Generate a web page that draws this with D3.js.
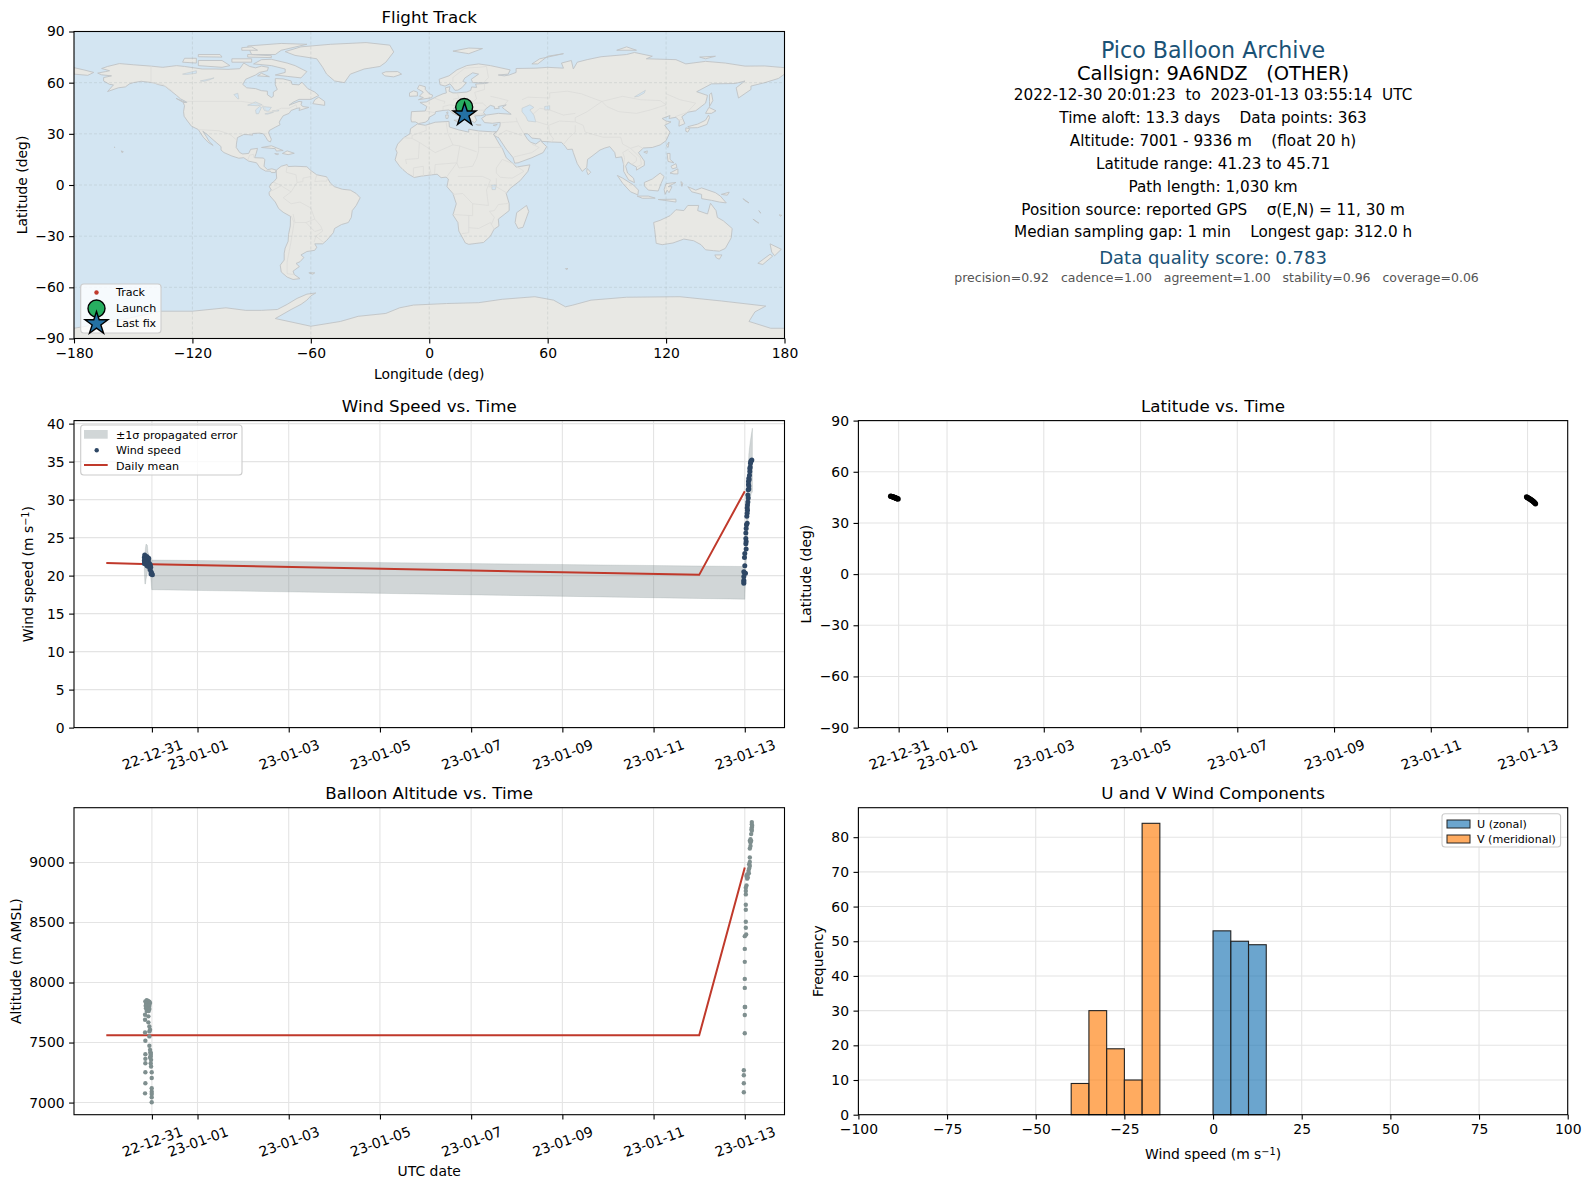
<!DOCTYPE html>
<html>
<head>
<meta charset="utf-8">
<script src="https://cdn.jsdelivr.net/npm/d3@7/dist/d3.min.js"></script>
<style>
  body { margin: 0; background: #fff; }
  svg text { font-family: "DejaVu Sans", sans-serif; fill: #000; }
  .pre { white-space: pre; }
</style>
</head>
<body>
<svg id="vis" width="1589" height="1189"></svg>
<script>
// text block, top right
var infoTitle = "Pico Balloon Archive";
var infoCallsign = "Callsign: 9A6NDZ   (OTHER)";
var infoLines = [
    "2022-12-30 20:01:23  to  2023-01-13 03:55:14  UTC",
    "Time aloft: 13.3 days    Data points: 363",
    "Altitude: 7001 - 9336 m    (float 20 h)",
    "Latitude range: 41.23 to 45.71",
    "Path length: 1,030 km",
    "Position source: reported GPS    \u03c3(E,N) = 11, 30 m",
    "Median sampling gap: 1 min    Longest gap: 312.0 h"
];
var infoScore = "Data quality score: 0.783";
var infoParts = "precision=0.92   cadence=1.00   agreement=1.00   stability=0.96   coverage=0.06";

// time axis
var dateTicks = ["2022-12-31", "2023-01-01", "2023-01-03", "2023-01-05", "2023-01-07", "2023-01-09", "2023-01-11", "2023-01-13"];

// daily means
var dailyDates = ["2022-12-30", "2022-12-31", "2023-01-12", "2023-01-13"];
var dailyWind = [21.66, 21.5, 20.1, 31.1];
var dailyAlt = [7560, 7560, 7560, 8957];

// first flight segment: hours after 2022-12-30 00:00 UTC
var windHoursA = [20.03, 20.21, 20.56, 20.74, 20.91, 21.26, 21.44, 21.61, 21.96, 22.14, 22.32, 20.03, 20.21, 20.56, 20.74, 21.26, 21.61, 21.96, 22.32, 22.67, 22.84, 20.03, 20.56, 20.91, 21.44, 21.96, 22.14, 22.67, 23.02, 23.2, 23.37, 23.55, 23.9, 24.25, 23.55];
var windValsA = [22.4, 22.7, 22.5, 22.3, 22.4, 22.5, 22.2, 22.4, 22.3, 22.05, 22.3, 22.0, 21.9, 22.1, 21.8, 21.9, 21.8, 21.7, 21.6, 21.6, 21.4, 21.6, 21.6, 21.5, 21.3, 21.6, 21.2, 21.5, 20.8, 21.4, 21.1, 20.5, 20.3, 20.1, 20.2];
var altHoursA = [20.56, 21.26, 21.96, 22.67, 20.91, 21.61, 22.32, 23.02, 20.74, 21.44, 22.14, 22.67, 20.91, 21.96, 22.67, 21.26, 22.32, 20.39, 22.14, 20.39, 22.14, 22.67, 23.02, 22.67, 20.39, 22.67, 20.56, 22.67, 23.02, 23.37, 20.56, 23.37, 20.56, 23.55, 23.37, 20.56, 23.55, 23.2, 23.37, 23.02, 20.56, 23.9, 23.9, 20.56, 20.39, 23.9, 23.9, 23.9, 23.9, 23.9];
var altValsA = [7843, 7852, 7846, 7840, 7829, 7824, 7818, 7829, 7807, 7802, 7796, 7807, 7785, 7779, 7779, 7762, 7762, 7732, 7718, 7690, 7668, 7634, 7607, 7593, 7584, 7551, 7515, 7473, 7439, 7412, 7403, 7384, 7364, 7356, 7328, 7328, 7300, 7420, 7398, 7375, 7253, 7253, 7205, 7161, 7077, 7119, 7091, 7072, 7044, 7003];
var latHoursA = [20.03, 20.35, 20.7, 21.0, 21.3, 21.6, 21.9, 22.2, 22.5, 22.8, 23.1, 23.4, 23.7];
var latValsA = [45.71, 45.6, 45.45, 45.3, 45.2, 45.05, 44.9, 44.8, 44.65, 44.5, 44.35, 44.2, 44.1];
var lonValsA = [17.7, 17.7, 17.8, 17.8, 17.9, 17.9, 18.0, 18.0, 18.0, 18.1, 18.1, 18.2, 18.2];

// second flight segment: hours after 2023-01-13 00:00 UTC
var windHoursB = [-0.51, -0.51, -0.51, 0, 0.37, -0.51, 0, -0.16, 0, 0.72, 0.55, 0.55, 0.55, 0.9, 1.25, 1.07, 1.25, 1.25, 1.42, 1.6, 1.78, 1.6, 2.13, 1.95, 1.95, 2.13, 2.48, 2.65, 2.83, 3.0, 3.35, 3.7, 2.13, 2.3, 2.65, 3.18, 1.78, 1.42, 0.72, 0.72, -0.51];
var windValsB = [19.0, 19.4, 19.9, 20.3, 20.3, 20.5, 21.3, 22.4, 22.9, 23.5, 24.2, 24.9, 25.6, 26.7, 26.9, 27.8, 28.2, 28.9, 29.3, 29.7, 30.2, 30.6, 31.4, 32.0, 32.4, 32.8, 33.2, 33.7, 34.3, 34.8, 35.1, 35.2, 31.8, 32.6, 34.1, 35.0, 31.3, 28.6, 26.2, 24.5, 19.2];
var altHoursB = [-0.51, -0.51, -0.51, -0.51, 0, 0, 0, 0.19, 0, 0, 0, 0, 0, 0.72, 0.54, 0.54, 0.54, 0.54, 0.54, 0.54, 0.9, 0.54, 1.25, 0.9, 1.25, 1.6, 1.95, 2.3, 2.65, 2.3, 2.65, 2.65, 2.65, 3.0, 3.0, 3.35, 2.65, 3.35, 3.7, 3.7, 3.7, 3.7, 3.88, 3.53, 3.0, 1.6, 2.12];
var altValsB = [7086, 7161, 7228, 7269, 7578, 7729, 7796, 7796, 7955, 8030, 8172, 8280, 8386, 8400, 8456, 8506, 8606, 8648, 8734, 8762, 8809, 8790, 8865, 8887, 8901, 8901, 8929, 8949, 8971, 8985, 9004, 9041, 9116, 9138, 9166, 9180, 9180, 9236, 9263, 9291, 9319, 9336, 9305, 9277, 9194, 8874, 8910];
var latHoursB = [-0.5, -0.2, 0.1, 0.5, 0.9, 1.3, 1.7, 2.0, 2.4, 2.8, 3.1, 3.5, 3.92];
var latValsB = [45.2, 45.0, 44.8, 44.5, 44.2, 43.9, 43.6, 43.3, 43.0, 42.6, 42.3, 41.8, 41.23];
var lonValsB = [18.3, 18.3, 18.2, 18.2, 18.2, 18.1, 18.1, 18.0, 18.0, 18.0, 17.9, 17.9, 17.9];

// +/- 1 sigma band, read from the edges of the grey area
var bandHoursA = [20.03, 20.3, 20.6, 20.9, 21.6, 22.0, 22.6, 23.3, 23.9];
var bandHighA = [21.5, 22.8, 23.6, 24.15, 24.0, 23.0, 22.6, 22.3, 22.05];
var bandLowA = [20.6, 18.9, 18.9, 19.5, 20.4, 20.7, 20.4, 20.0, 18.15];
var bandHoursB = [-0.1, 0, 0.5, 1.25, 1.8, 2.13, 2.8, 3.4, 4.0];
var bandHighB = [21.2, 21.2, 26.0, 30.0, 34.0, 36.0, 37.5, 38.5, 39.4];
var bandLowB = [16.9, 16.9, 20.5, 24.5, 27.5, 28.5, 30.0, 30.8, 31.0];

// histogram: left bin edges (5 m/s wide) and counts
var uBins = [0, 5, 10];
var uCounts = [53, 50, 49];
var vBins = [-40, -35, -30, -25, -20];
var vCounts = [9, 30, 19, 10, 84];
var binWidth = 5;

// map ticks
var lonTicks = [-180, -120, -60, 0, 60, 120, 180];
var latTicks = [-90, -60, -30, 0, 30, 60, 90];

// land outlines, [lon, lat]
var landPolygons = [
    // north america
    [[-168,65.6],[-164,66.5],[-162,67],[-166,68.3],[-163,69.5],[-157,71.2],[-150,70.5],[-141,69.7],[-135,69],[-128,70],[-124,69.5],[-115,68],[-108,68],[-102,67.8],[-96,68.2],[-94,71.5],[-91,69.5],[-88,68.7],[-85,69.7],[-81.5,69],[-82,67],[-86,66],[-88,64.5],[-93,62],[-94.5,59],[-92.5,57],[-88,56.5],[-85,55.3],[-82,55],[-82,52.9],[-80,51.3],[-79,52],[-79,54.5],[-77,56],[-78,58.8],[-78,62.4],[-74,62.2],[-70,61],[-69.5,59],[-66,58.7],[-64.5,60.3],[-61.5,56.5],[-58,54.5],[-56,52.5],[-60,50.2],[-66,50.2],[-69,48.5],[-71,46.8],[-66,49],[-64.5,48.8],[-65,47],[-64,46],[-61,45.5],[-66,43.7],[-65.5,45.2],[-67,45],[-70,43.7],[-71,42],[-74,40.6],[-75.5,38],[-76,36.8],[-75.6,35.3],[-78,33.9],[-81,32],[-81.4,30.5],[-80,26.8],[-80.5,25.2],[-81.8,26],[-82.8,28],[-84,30],[-86,30.4],[-89.5,30.2],[-89.5,29.2],[-91.5,29.5],[-94,29.6],[-97.2,27.8],[-97.7,24],[-97.8,22],[-96,19],[-94.5,18.2],[-91.5,18.5],[-90.5,20.9],[-87,21.5],[-87.7,18.5],[-88.5,16],[-84,15.8],[-83.3,14.8],[-83.7,11],[-82,9],[-79.7,9.5],[-77.5,8.7],[-78,7.3],[-80,7.3],[-80.5,8.1],[-83,8.2],[-85.7,10],[-87.5,13],[-91.5,14],[-94,16],[-96.5,15.7],[-100,17],[-104,19],[-105.5,20.5],[-105.5,22.5],[-108,25],[-110,27],[-112.7,29.8],[-114.7,31.5],[-113,28.5],[-111.5,25.5],[-109.5,23.2],[-112,25],[-114.5,28],[-117,32.5],[-120.5,34.5],[-122.5,37.5],[-124.2,40.3],[-124.5,43],[-124,46.5],[-124.7,48.4],[-122.7,48.5],[-126,50.5],[-128,52.5],[-130.5,54.8],[-134,58],[-137,58.8],[-140,60],[-146,60.8],[-150,60],[-152,59.2],[-154,57.5],[-157.5,57],[-163,54.8],[-160,58.7],[-162,59],[-165,61],[-165,63],[-161,64],[-166,64.6]],
    // south america
    [[-77.5,8.7],[-75,11],[-72,12],[-71.5,10.8],[-68,11],[-62,10.7],[-60,8.5],[-57,6],[-52,4.8],[-50,1],[-48,-1],[-44,-2.5],[-40,-3],[-37,-5],[-35,-7.5],[-37,-12],[-39,-15],[-39.5,-19],[-41,-22],[-44.5,-23.2],[-48,-25.5],[-48.6,-28],[-52,-32.5],[-54,-34.5],[-58,-34.5],[-57,-36.5],[-58,-38.3],[-62,-39],[-65,-41],[-63.5,-42.5],[-65.5,-45],[-67.5,-46],[-65.8,-47.8],[-69,-50.5],[-68.4,-52.5],[-65.5,-54.9],[-69,-55.4],[-72,-54],[-75,-51],[-75.5,-47],[-73.5,-44],[-73.5,-40],[-73,-37],[-71.5,-33],[-71.3,-29],[-70.4,-24],[-70.3,-18.4],[-74,-16],[-76.3,-13.8],[-78,-10],[-81,-6],[-81.2,-4.3],[-80,-3],[-81,-1],[-80,1],[-78.7,2],[-77.3,4],[-77.5,7]],
    // africa
    [[-6,35.8],[-2,35],[3,36.8],[10,37.3],[10.2,34],[15,32.3],[20,31],[20,32.7],[25,31.7],[32,31.2],[34.3,31.3],[32.6,29.9],[35.5,24],[37.2,21],[39,16],[43,12],[44,10.5],[51,11.8],[50,8],[46,2.5],[41,-2],[39,-5],[40.5,-11],[40.5,-15],[35,-20],[35.3,-24],[32.8,-26],[31,-30],[27.5,-33.7],[20,-34.8],[18.3,-34],[15,-27],[14.5,-22],[12,-17.5],[13.7,-11],[12,-5],[9,-1],[9.7,3.5],[8.5,4.6],[6,4.3],[4,6.3],[1,5.9],[-4,5.2],[-7.6,4.4],[-11,6.7],[-13.3,9],[-15,11],[-17.3,14.7],[-16.3,19],[-17,21],[-16,24],[-13,27.7],[-9.8,30],[-9.5,33]],
    // eurasia
    [[-9.3,38.7],[-9,43],[-2,43.4],[-1.2,46],[-4.7,48.4],[-1.5,48.7],[1.5,50.5],[4,52],[7,53.5],[8.7,54],[8.2,57],[10.5,57.6],[10,55],[12,54],[14,54],[19,54.5],[21,55.5],[21.5,57.5],[24,57.2],[23.5,59.2],[28,59.5],[30,60],[25,60],[22,60],[21.3,62],[25,65],[22,65.8],[18,62.7],[17,60.7],[18.8,60],[16.5,57],[14.5,55.6],[13,55.5],[11.5,58],[10.5,59.3],[8,58],[5.5,58.8],[5,62],[10,64],[14,67.5],[19,70],[25,71],[31,70],[41,67.5],[40,65],[35,64.5],[38,64],[40.5,64.5],[44,66],[44,68.3],[54,68.5],[60,69],[68,68.5],[67,71.5],[72,73],[73,68],[75,72],[80,73.5],[87,75.2],[100,76.5],[104,77.7],[113,75.5],[110,74],[125,73.5],[130,71],[140,72.5],[150,71.5],[160,69.7],[170,69.8],[178,69],[180,68.8],[180,65],[177,62.5],[170,60],[163,58],[163,56],[156.7,51],[155.5,57],[160,61],[155,59.5],[143,59.3],[135.5,54.7],[141,52.5],[140,48],[135,43.5],[131,42.7],[128,40],[129.5,36],[126.5,34.5],[126.7,37.7],[125,39.7],[121.5,39],[122,40.7],[118,39],[120,37.5],[122.5,37],[119.3,35],[122,31],[120,26],[117,23.5],[113,22],[108.5,21.7],[106,19],[109,14],[109,11.5],[105,8.7],[105,10.5],[102,12.5],[100.8,13.5],[99.5,11],[100.5,7],[103.5,4],[104,1.4],[101,3],[98.5,8],[98.5,12],[97.5,16.5],[94.5,16],[94,19],[91.5,22.5],[89,21.7],[86.5,20.5],[82,16.5],[80.2,15],[79.8,10.3],[77.5,8],[75,12.5],[73,19],[72.5,21],[70,20.8],[69,22.5],[67,25],[62,25.2],[57,25.6],[56.3,27],[52,27.5],[50,30],[48,30],[50,26.5],[51.5,25],[54,24],[56.3,26],[59.5,22.5],[57.7,19],[52,16],[45,13],[43.3,12.8],[42.5,16],[39,21],[35,28],[34.5,28],[33,29],[32.6,29.9],[34.4,31.4],[35.8,34.5],[36,36.7],[32,36.2],[28,36.6],[26.5,39],[29,41],[35,42],[41.5,41.5],[38,44.5],[37,45.5],[39,47],[35,46],[35.5,45],[33,44.7],[33,46],[31,46.7],[28.5,44.5],[27.5,42.5],[28.5,41.3],[26,40.7],[23,40.5],[24,38],[23,36.5],[21.5,37.5],[19.5,41],[19,42.3],[14.5,45.2],[13,45.7],[12.3,44.5],[14,42.4],[16,41.8],[18.5,40],[17,40.5],[16,38],[15.7,40],[12,42],[10,44],[7,43.7],[3.2,43],[3,41.7],[0,39.7],[-0.5,38],[-2,36.8],[-5.5,36],[-7,37],[-9,37]],
    // chukotka across the date line
    [[-180,68.8],[-175,67.5],[-170,66],[-173,64.3],[-180,65]],
    // antarctica
    [[-180,-84],[-160,-80],[-150,-77.5],[-136,-74],[-120,-74],[-103,-72],[-93,-73.5],[-85,-73.5],[-77,-73],[-72,-70],[-67,-66.5],[-62,-64],[-57.5,-63.3],[-60,-65],[-62,-67.5],[-65,-70],[-70,-73],[-78,-78.3],[-60,-82.8],[-45,-80],[-36,-77],[-22,-75.3],[-15,-72],[-8,-70.4],[8.7,-69.5],[25,-69],[37,-67],[53.5,-65.5],[63,-67.5],[69,-71.4],[72.5,-70.5],[82,-67.5],[100,-65.8],[127,-65.5],[148,-68],[170.5,-71],[165,-74.4],[162,-80],[173,-84],[180,-84],[180,-90],[-180,-90]],
    // greenland, arctic islands
    [[-73,78.2],[-65,81],[-50,82.5],[-32,83.5],[-20,82],[-18,78],[-22,72],[-25,69.5],[-33,68],[-40,65],[-43,60],[-48,61],[-52,65],[-54,69],[-57,74],[-68,76]],
    [[-24,65.5],[-22,66.4],[-16,66.5],[-14,65],[-18,63.4],[-22.5,64]],
    [[12,78.5],[20,80.3],[27,80],[20,77]],
    [[52,71],[56,74],[68,77],[60,75.5],[55,71]],
    [[95,79],[105,79],[100,81]],
    [[137,75],[145,75.5],[140,74]],
    [[-80,73.7],[-72,71.5],[-68,70],[-62,66.5],[-65,62.8],[-72,63.7],[-78,64.5],[-73,66],[-73,68],[-80,70],[-89,71],[-85,73.5]],
    [[-117,70],[-105,69],[-101,70],[-105,73],[-117,73]],
    [[-125,72],[-118,71.5],[-118,74.3],[-124,74.3]],
    [[-90,76.5],[-78,76.5],[-75,79],[-62,82.5],[-75,83],[-92,81.5]],
    [[-92,75],[-80,74.7],[-80,75.8],[-92,76.5]],
    [[-117,75.2],[-105,75],[-106,76.5],[-117,76.5]],
    [[-87,64],[-81,63.5],[-85,65.5]],
    [[-95,79],[-87,79],[-90,81],[-95,80.5]],
    [[-100,72],[-90,72],[-90,74],[-100,74]],
    [[-59,47.7],[-53,46.7],[-53,49],[-56,51.5],[-58,50]],
    [[-128.3,50.8],[-123.5,48.4],[-125,48.7]],
    // caribbean
    [[-85,22],[-80,23],[-74,20.2],[-77.5,19.9],[-78,21.3]],
    [[-74.4,18.5],[-72,20],[-68.4,18.6],[-71.5,17.8]],
    [[-78.3,18.4],[-76.3,18.2],[-77,17.8]],
    // hawaii
    [[-156,20],[-155,19.5],[-155.7,19]],
    [[-159.7,22.2],[-159.3,22.2],[-159.4,21.9]],
    // europe islands
    [[-5.5,50],[1.3,51.2],[1.7,52.7],[0,53.5],[-2,56],[-2,57.6],[-5,58.6],[-6,56.5],[-3,54.5],[-5,52],[-3,51.3]],
    [[-10,52],[-6,52.2],[-6,54.5],[-8,55.2],[-10,54]],
    [[12.5,38],[15.6,38.2],[15,36.7]],
    [[8.3,41],[9.7,41],[9.5,39.1],[8.5,39]],
    [[8.7,42.5],[9.5,42.9],[9.3,41.5]],
    [[23.6,35.5],[26.3,35.2],[24.8,34.9]],
    [[32.4,35],[34.5,35.6],[33.5,34.7]],
    // east asia
    [[131,34.2],[136,35.7],[140,38],[141.5,41],[142,39.5],[140.7,35.5],[136,33.6],[132,33.5]],
    [[140,42],[141.7,45.5],[145.3,43.5],[143,42]],
    [[130,33.5],[132,33],[131,31],[130,31.5]],
    [[142,46],[143.7,49.5],[143,54],[142,53],[142,49]],
    [[120.1,23],[121.5,25.2],[121,22]],
    [[108.7,19.3],[110.5,20],[110.3,18.5]],
    // south east asia
    [[120.5,18.5],[122,18.5],[122,15],[124,13],[121,13.8]],
    [[122,7],[126,9.5],[126,6.5],[124,6.5]],
    [[122.5,11],[125,12.5],[125.5,10.2],[123.2,9.5]],
    [[109,1.5],[113,3.5],[117,7],[119,5],[117.5,1],[116,-3.5],[111,-3],[109,-0.5]],
    [[95.3,5.6],[98,4],[103.5,0],[106,-3],[105.7,-5.8],[102,-4],[98,1]],
    [[105.3,-6.5],[111,-6.5],[114.5,-7.7],[108,-7.8]],
    [[119.5,-5.5],[119,-2.5],[120,0.8],[125,1.5],[121,-1],[123,-1],[121.5,-4.5],[120.5,-3]],
    [[131,-1],[135,-3],[138,-1.7],[145,-4.5],[147.5,-6.5],[150.5,-10.5],[147,-10],[143,-9],[138,-8],[138,-5.5],[133,-4]],
    [[116,-8.5],[125,-8.3],[125,-10],[119,-9]],
    [[127.5,2],[128.5,1],[128,-0.8]],
    [[148,-5.5],[152,-4.2],[151,-6]],
    [[80,9.7],[81.8,7.5],[80.5,6],[79.8,8]],
    // australia, pacific
    [[113.7,-22],[114.2,-26],[115,-34.2],[118,-35],[123.5,-34],[129,-31.7],[134,-32.7],[137.7,-35],[140,-38],[144,-38.5],[147,-38.8],[150,-37.2],[153,-31],[153.5,-25.5],[149,-21],[146,-19],[145.3,-15],[142.5,-10.7],[141,-17],[136,-15],[136.5,-12],[131,-12],[129,-15],[125,-14.5],[122,-18],[117,-20.7]],
    [[144.7,-41],[148.3,-41],[147,-43.5],[145.5,-42.8]],
    [[172.7,-34.5],[178.4,-37.7],[175,-41.5],[173.5,-39.3]],
    [[172.7,-40.6],[174,-41.7],[169,-46.6],[166.5,-45.9]],
    [[164,-20],[167,-22.3],[166.5,-22.2]],
    [[159,-8],[162,-10.5],[160,-9.2]],
    [[167,-15],[168,-16.5],[167.5,-16]],
    [[177.3,-17.5],[178.6,-17.8],[178,-18.3]],
    // madagascar and southern ocean
    [[49.3,-12],[50.4,-15.5],[47.5,-24.8],[45,-25.5],[43.5,-22],[44.3,-16.2]],
    [[-61,-51.5],[-58,-51.5],[-59,-52.3]],
    [[69,-49],[70.3,-49],[69.5,-49.6]]
];

// lakes and inland seas, drawn in the ocean colour
var waterPolygons = [
    [[47,45],[51,47],[53,45.5],[51,44],[53,41],[54,37],[50,37.5],[49,40],[47,43]],
    [[58.5,46],[61,46.5],[61,44],[58.5,44]],
    [[104,51.7],[109.5,55.5],[109,54],[106,52]],
    [[-92,46.8],[-88,48.7],[-84.7,47],[-87,46.5]],
    [[-88,44],[-86,46],[-85,45.5],[-86.5,41.8],[-87.7,41.8]],
    [[-84.5,46],[-80,45.5],[-81.5,43.2],[-83.5,43.7]],
    [[-83.3,41.7],[-79,42.8],[-79,42.6],[-82,41.5]],
    [[-79.7,43.3],[-76.3,44],[-76.3,43.4],[-78,43.3]],
    [[-125,65],[-118,67],[-118,65.5],[-123,64.8]],
    [[-116,61],[-109,62.8],[-111,61.8],[-114,60.8]],
    [[-99,53],[-97,53.8],[-96.5,50.5],[-97,50.5]],
    [[31.7,0],[34,0],[33.5,-2.7],[31.8,-2.7]]
];

// country borders, thin lines
var borderLines = [
    [[-123,49],[-95,49],[-89,48],[-84,46.5],[-82.5,43],[-79,43],[-75,45],[-71,45],[-67.5,47],[-67,45]],
    [[-141,69.7],[-141,60],[-135,59],[-130,55]],
    [[-117,32.5],[-106.5,31.8],[-101,29.7],[-97.2,26]],
    [[-92,14.5],[-91,17.5],[-89,18],[-88.8,15.9]],
    [[-72,11.5],[-72.5,7.5],[-67.5,6],[-67,1.5]],
    [[-60,8],[-60,5],[-64,4],[-64,2],[-67,1.5],[-70,-4],[-74,-7.5],[-70,-11],[-65.5,-10],[-60,-13.5],[-58,-20],[-55,-24],[-54,-27],[-57.5,-30],[-53.5,-33.7]],
    [[-57,6],[-58,2],[-55,2.3],[-52,2.2],[-51.5,4.4]],
    [[-80,-3.5],[-75,-0.5],[-70,-4]],
    [[-78.7,1.5],[-75,-0.2]],
    [[-70,-18],[-68.5,-22],[-70,-33],[-72,-45],[-72,-52],[-68.5,-52.5]],
    [[-69,-17],[-68,-22],[-62.5,-22],[-58,-20]],
    [[-62.5,-22],[-58,-27.3],[-54.6,-26]],
    [[-58.3,-33.5],[-57.5,-30]],
    [[-13,27.7],[-8.7,27.4],[-8.7,29],[-1.5,32],[-1.7,35]],
    [[8.5,37],[9.5,30],[12,23.5],[3,19],[-5,25],[-8.7,27.3]],
    [[25,31.7],[25,20],[24,15.7],[22,11]],
    [[12,23.5],[15,23],[24,19.5]],
    [[15.5,23],[14,13],[15,10],[22,11]],
    [[25,22],[37,22]],
    [[-5,25],[-5.5,15.5],[-12,15],[-11.5,12.3]],
    [[3,12],[14,13]],
    [[3,12],[2.7,6.4]],
    [[14,13],[9,5]],
    [[14.5,5],[27,5]],
    [[12,-5.5],[17,-5],[22,-11],[30,-12],[29,-3],[31,3],[27,5]],
    [[34,10],[37,15],[42.5,12.5],[48,8],[42,4],[36,4.5],[34,7],[34,10]],
    [[34,4],[34,-1],[39.2,-4.6]],
    [[34,-1],[30,-1]],
    [[22,-11],[22,-18],[12,-17.3]],
    [[20,-18],[20,-28],[16.5,-28.5]],
    [[20,-25],[25,-25.5],[31,-22],[33,-26]],
    [[40.5,-10.7],[35,-11.5],[33,-15],[30.5,-15.5],[33,-19],[31.5,-23]],
    [[-8,4.5],[-8,10],[-3,11],[-3,5]],
    [[1,6],[0,11]],
    [[47,50],[50,51.5],[61,51],[61,54],[70,55],[77,53.5],[85,50],[87.5,49]],
    [[87.5,49],[98,52],[107,50],[117,49.5],[120,47],[112,44],[105,42],[96,43],[90,46],[87.5,49]],
    [[120,53.5],[127,50],[135,48],[131,43]],
    [[74,37],[78,35],[79,31],[88,28],[97,28],[98,24],[102,21.5],[106,23],[108,21.7]],
    [[87.5,49],[80,43],[74,39.5],[74,37]],
    [[68,23.7],[71,28],[74,31],[74,35]],
    [[61.5,25],[63,27],[61,30],[60.5,35],[66,37.5],[74,37]],
    [[48,30],[46,34],[44.5,37.5],[44,39.5]],
    [[36,36.5],[44.5,37.2]],
    [[35,29.3],[39,32],[47,29]],
    [[43,16.5],[52,19],[55.7,22],[52,24]],
    [[52.5,41.5],[56,45],[61,44],[68,41],[74,42]],
    [[54,37.3],[60.5,35]],
    [[98.5,12],[99,16],[98,19],[101,21]],
    [[101,20],[105,16],[105,14],[102.5,12]],
    [[102,21.5],[107,16],[107.5,12],[105,10.5]],
    [[124.5,40],[130.5,42.5]],
    [[126,38],[128.4,38.5]],
    [[-1.7,43.3],[3,42.4]],
    [[2.5,51],[6,49.5],[8,49],[7.5,47.6]],
    [[14.2,54],[15,51]],
    [[12,50.3],[15,51],[19,49.5],[22.5,49]],
    [[7,44],[7,46],[10.5,47],[13.5,46.5],[16,46.8],[19,46],[22.5,48],[27,48],[29,46]],
    [[23,54.3],[24,50.5],[22.5,49]],
    [[28,59.5],[28,56],[23,54.3]],
    [[28,60.5],[30,63],[29,69.5]],
    [[12,59],[12,63],[18,68.5],[25,69],[29,69.5]],
    [[31,52],[35,51],[40,49.5],[38,47]],
    [[19,46],[22.5,44],[23,41.3]],
    [[20,42],[23,41.3],[26.5,41.7],[28,42]],
    [[22.5,44],[28.5,43.8]]
];

// colours, sizes and panel boxes
var GRID = "#e4e4e4";
var NAVY = "#1a5276";
var RED = "#c0392b";
var FS_TICK = 13.9, FS_TITLE = 16.7, FS_LEGEND = 11.1;

var panels = {
    map:   {x: 74,    y: 31.5,  w: 710.5, h: 307},
    wind:  {x: 74,    y: 420.6, w: 710.5, h: 307},
    lat:   {x: 858.4, y: 420.6, w: 709.3, h: 307},
    alt:   {x: 74,    y: 807.7, w: 710.5, h: 307},
    hist:  {x: 858.4, y: 807.7, w: 709.3, h: 307}
};

var display = d3.select("#vis");
var dateLabel = d3.utcFormat("%y-%m-%d");
var minus = d => d < 0 ? "\u2212" + (-d) : "" + d;

var day0 = Date.UTC(2022, 11, 30);
var day13 = Date.UTC(2023, 0, 13);
var hoursA = h => new Date(day0 + h * 3600e3);
var hoursB = h => new Date(day13 + h * 3600e3);

// one panel: group at the panel corner
function panelGroup(p) {
    return display.append("g").attr("transform", `translate(${p.x},${p.y})`);
}

function drawFrame(g, p) {
    g.append("rect")
        .attr("width", p.w).attr("height", p.h)
        .attr("fill", "none").attr("stroke", "#000").attr("stroke-width", 1.1);
}

function styleAxis(a) {
    a.attr("font-family", "DejaVu Sans").attr("font-size", FS_TICK);
    a.selectAll(".domain").remove();
    a.selectAll(".tick line").attr("stroke-width", 1.1);
}

function drawAxes(g, p, x, y, xTicks, yTicks, xFormat, yFormat) {
    var bottom = g.append("g").attr("transform", `translate(0,${p.h})`)
        .call(d3.axisBottom(x).tickValues(xTicks).tickFormat(xFormat).tickSize(4.9).tickPadding(4.5));
    var left = g.append("g")
        .call(d3.axisLeft(y).tickValues(yTicks).tickFormat(yFormat).tickSize(4.9).tickPadding(4.5));
    styleAxis(bottom);
    styleAxis(left);
    return bottom;
}

function drawGrid(g, p, x, y, xTicks, yTicks, dash) {
    g.append("g").selectAll("line").data(xTicks).join("line")
        .attr("x1", d => x(d)).attr("x2", d => x(d)).attr("y1", 0).attr("y2", p.h)
        .attr("stroke", dash ? "#9aa0a3" : GRID).attr("stroke-width", dash ? 0.6 : 1.1)
        .attr("stroke-opacity", dash ? 0.4 : 1).attr("stroke-dasharray", dash);
    g.append("g").selectAll("line").data(yTicks).join("line")
        .attr("x1", 0).attr("x2", p.w).attr("y1", d => y(d)).attr("y2", d => y(d))
        .attr("stroke", dash ? "#9aa0a3" : GRID).attr("stroke-width", dash ? 0.6 : 1.1)
        .attr("stroke-opacity", dash ? 0.4 : 1).attr("stroke-dasharray", dash);
}

function title(p, s) {
    display.append("text")
        .attr("x", p.x + p.w / 2).attr("y", p.y - 8.3)
        .attr("text-anchor", "middle").attr("font-size", FS_TITLE).text(s);
}

function xLabel(p, s, baseline) {
    return display.append("text")
        .attr("x", p.x + p.w / 2).attr("y", baseline)
        .attr("text-anchor", "middle").attr("font-size", FS_TICK).text(s);
}

function yLabel(p, s, baseline) {
    return display.append("text")
        .attr("transform", `translate(${baseline},${p.y + p.h / 2}) rotate(-90)`)
        .attr("text-anchor", "middle").attr("font-size", FS_TICK).text(s);
}

// m s^-1 with a raised exponent, as real text
function unitText(t, before) {
    t.text(before);
    t.append("tspan").attr("dy", "-0.42em").attr("font-size", FS_TICK * 0.7).text("\u22121");
    t.append("tspan").attr("dy", "0.3em").text(")");
}

function rotateDates(bottom) {
    bottom.selectAll(".tick text")
        .attr("y", 0).attr("dy", ".35em")
        .attr("text-anchor", "middle")
        .attr("transform", "translate(0,27) rotate(-20)");
}

function legendBox(x, y, w, h) {
    display.append("rect")
        .attr("x", x).attr("y", y).attr("width", w).attr("height", h).attr("rx", 3)
        .attr("fill", "#fff").attr("fill-opacity", 0.8)
        .attr("stroke", "#ccc").attr("stroke-width", 1.1);
}

function legendText(x, y, s) {
    display.append("text")
        .attr("x", x).attr("y", y).attr("dy", ".35em")
        .attr("font-size", FS_LEGEND).text(s);
}

function scatter(g, times, vals, x, y, r, color) {
    g.append("g").selectAll("circle").data(vals).join("circle")
        .attr("cx", (d, i) => x(times[i])).attr("cy", d => y(d))
        .attr("r", r).attr("fill", color);
}

function starPath(radius) {
    return d3.symbol().type(d3.symbolStar).size(radius * radius / 0.8908)();
}

// ---- flight track map
function drawMap() {
    var p = panels.map;
    var g = panelGroup(p);
    var x = d3.scaleLinear().domain([-180, 180]).range([0, p.w]);
    var y = d3.scaleLinear().domain([-90, 90]).range([p.h, 0]);
    var line = d3.line().x(d => x(d[0])).y(d => y(d[1]));

    display.append("clipPath").attr("id", "mapClip").append("rect")
        .attr("width", p.w).attr("height", p.h);
    var inner = g.append("g").attr("clip-path", "url(#mapClip)");

    inner.append("rect").attr("width", p.w).attr("height", p.h).attr("fill", "#d3e5f2");
    inner.append("g").selectAll("path").data(landPolygons).join("path")
        .attr("d", d => line(d) + "Z")
        .attr("fill", "#e8e8e4").attr("stroke", "#bfc3c5").attr("stroke-width", 0.9)
        .attr("stroke-linejoin", "round");
    inner.append("g").selectAll("path").data(waterPolygons).join("path")
        .attr("d", d => line(d) + "Z")
        .attr("fill", "#d3e5f2").attr("stroke", "#c3c9cc").attr("stroke-width", 0.6);
    inner.append("g").selectAll("path").data(borderLines).join("path")
        .attr("d", line)
        .attr("fill", "none").attr("stroke", "#dcdcd9").attr("stroke-width", 0.8);

    drawGrid(inner, p, x, y, lonTicks, latTicks, "3,2");

    // track, then launch and last fix on top
    var trackLon = lonValsA.concat(lonValsB);
    var trackLat = latValsA.concat(latValsB);
    inner.append("g").selectAll("circle").data(trackLat).join("circle")
        .attr("cx", (d, i) => x(trackLon[i])).attr("cy", d => y(d))
        .attr("r", 1.6).attr("fill", RED);
    inner.append("circle")
        .attr("cx", x(lonValsA[0])).attr("cy", y(latValsA[0])).attr("r", 8.5)
        .attr("fill", "#27ae60").attr("stroke", "#000").attr("stroke-width", 1.4);
    inner.append("path")
        .attr("transform", `translate(${x(lonValsB[lonValsB.length - 1])},${y(latValsB[latValsB.length - 1])})`)
        .attr("d", starPath(12))
        .attr("fill", "#2471a3").attr("stroke", "#000").attr("stroke-width", 1.4);

    drawFrame(g, p);
    drawAxes(g, p, x, y, lonTicks, latTicks, minus, minus);
    title(p, "Flight Track");
    xLabel(p, "Longitude (deg)", 379);
    yLabel(p, "Latitude (deg)", 27);

    // legend
    legendBox(80.7, 284, 80.3, 49);
    display.append("circle").attr("cx", 96.5).attr("cy", 292.5).attr("r", 2.2).attr("fill", RED);
    display.append("circle").attr("cx", 96.5).attr("cy", 308.5).attr("r", 8.5)
        .attr("fill", "#27ae60").attr("stroke", "#000").attr("stroke-width", 1.4);
    display.append("path").attr("transform", "translate(96.5,323.5)").attr("d", starPath(12))
        .attr("fill", "#2471a3").attr("stroke", "#000").attr("stroke-width", 1.4);
    legendText(116, 292.5, "Track");
    legendText(116, 308, "Launch");
    legendText(116, 323, "Last fix");
}

// ---- text block
function drawInfo() {
    var cx = panels.lat.x + panels.lat.w / 2;
    function line(y, size, color, s, shift) {
        display.append("text").attr("class", "pre")
            .attr("x", cx + (shift || 0)).attr("y", y).attr("dy", ".35em")
            .attr("text-anchor", "middle").attr("font-size", size)
            .style("fill", color).text(s);
    }
    line(50.7, 22.2, NAVY, infoTitle);
    line(73, 19.5, "#000", infoCallsign);
    var ys = [94.2, 117.5, 140.8, 163.2, 186.5, 209.8, 232];
    infoLines.forEach((s, i) => line(ys[i], 15.25, "#000", s));
    line(257.4, 18, NAVY, infoScore);
    line(277.7, 12.5, "#555", infoParts, 3.5);
}

// ---- wind speed
function drawWind() {
    var p = panels.wind;
    var g = panelGroup(p);
    var x = d3.scaleUtc().domain([new Date(Date.UTC(2022, 11, 29, 7, 0)), new Date(Date.UTC(2023, 0, 13, 20, 54))]).range([0, p.w]);
    var y = d3.scaleLinear().domain([0, 40.4]).range([p.h, 0]);
    var ticks = dateTicks.map(d => new Date(d + "T00:00:00Z"));
    drawGrid(g, p, x, y, ticks, d3.range(0, 45, 5));

    // band over both segments
    var band = bandHoursA.map((h, i) => ({t: hoursA(h), hi: bandHighA[i], lo: bandLowA[i]}))
        .concat(bandHoursB.map((h, i) => ({t: hoursB(h), hi: bandHighB[i], lo: bandLowB[i]})));
    g.append("path").datum(band)
        .attr("d", d3.area().x(d => x(d.t)).y0(d => y(d.lo)).y1(d => y(d.hi)))
        .attr("fill", "#7b8a8d").attr("fill-opacity", 0.35)
        .attr("stroke", "#7b8a8d").attr("stroke-opacity", 0.25).attr("stroke-width", 0.8);

    var line = d3.line().x(d => x(d.t)).y(d => y(d.v));
    g.append("path")
        .datum(dailyDates.map((d, i) => ({t: new Date(d + "T00:00:00Z"), v: dailyWind[i]})))
        .attr("d", line).attr("fill", "none").attr("stroke", RED).attr("stroke-width", 2);

    scatter(g, windHoursA.map(hoursA), windValsA, x, y, 2.5, "#2e4765");
    scatter(g, windHoursB.map(hoursB), windValsB, x, y, 2.5, "#2e4765");

    drawFrame(g, p);
    var bottom = drawAxes(g, p, x, y, ticks, d3.range(0, 45, 5), dateLabel, d => d);
    rotateDates(bottom);
    title(p, "Wind Speed vs. Time");
    unitText(yLabel(p, "", 33), "Wind speed (m s");

    legendBox(80.7, 425, 161.3, 50);
    display.append("rect").attr("x", 84).attr("y", 430).attr("width", 23.7).attr("height", 8.7)
        .attr("fill", "#7b8a8d").attr("fill-opacity", 0.35);
    display.append("circle").attr("cx", 96.7).attr("cy", 450.3).attr("r", 2.2).attr("fill", "#2e4765");
    display.append("line").attr("x1", 84).attr("x2", 107.7).attr("y1", 465).attr("y2", 465)
        .attr("stroke", RED).attr("stroke-width", 2);
    legendText(116, 435, "\u00b11\u03c3 propagated error");
    legendText(116, 450.3, "Wind speed");
    legendText(116, 466, "Daily mean");
}

// ---- latitude
function drawLat() {
    var p = panels.lat;
    var g = panelGroup(p);
    var x = d3.scaleUtc().domain([new Date(Date.UTC(2022, 11, 30, 4, 2)), new Date(Date.UTC(2023, 0, 13, 19, 55))]).range([0, p.w]);
    var y = d3.scaleLinear().domain([-90, 90]).range([p.h, 0]);
    var ticks = dateTicks.map(d => new Date(d + "T00:00:00Z"));
    drawGrid(g, p, x, y, ticks, latTicks);

    scatter(g, latHoursA.map(hoursA), latValsA, x, y, 2.7, "#000");
    scatter(g, latHoursB.map(hoursB), latValsB, x, y, 2.7, "#000");

    drawFrame(g, p);
    var bottom = drawAxes(g, p, x, y, ticks, latTicks, dateLabel, minus);
    rotateDates(bottom);
    title(p, "Latitude vs. Time");
    yLabel(p, "Latitude (deg)", 811);
}

// ---- altitude
function drawAlt() {
    var p = panels.alt;
    var g = panelGroup(p);
    var x = d3.scaleUtc().domain([new Date(Date.UTC(2022, 11, 29, 7, 0)), new Date(Date.UTC(2023, 0, 13, 20, 54))]).range([0, p.w]);
    var y = d3.scaleLinear().domain([6899, 9456]).range([p.h, 0]);
    var ticks = dateTicks.map(d => new Date(d + "T00:00:00Z"));
    var altTicks = [7000, 7500, 8000, 8500, 9000];
    drawGrid(g, p, x, y, ticks, altTicks);

    g.append("path")
        .datum(dailyDates.map((d, i) => ({t: new Date(d + "T00:00:00Z"), v: dailyAlt[i]})))
        .attr("d", d3.line().x(d => x(d.t)).y(d => y(d.v)))
        .attr("fill", "none").attr("stroke", RED).attr("stroke-width", 2);

    scatter(g, altHoursA.map(hoursA), altValsA, x, y, 2.2, "#7f8f8f");
    scatter(g, altHoursB.map(hoursB), altValsB, x, y, 2.2, "#7f8f8f");

    drawFrame(g, p);
    var bottom = drawAxes(g, p, x, y, ticks, altTicks, dateLabel, d => d);
    rotateDates(bottom);
    title(p, "Balloon Altitude vs. Time");
    xLabel(p, "UTC date", 1176);
    yLabel(p, "Altitude (m AMSL)", 21);
}

// ---- u and v histogram
function drawHist() {
    var p = panels.hist;
    var g = panelGroup(p);
    var x = d3.scaleLinear().domain([-100, 100]).range([0, p.w]);
    var y = d3.scaleLinear().domain([0, 88.5]).range([p.h, 0]);
    var xTicks = d3.range(-100, 125, 25);
    var yTicks = d3.range(0, 90, 10);
    drawGrid(g, p, x, y, xTicks, yTicks);

    function bars(bins, counts, color) {
        g.append("g").selectAll("rect").data(counts).join("rect")
            .attr("x", (d, i) => x(bins[i]))
            .attr("width", (d, i) => x(bins[i] + binWidth) - x(bins[i]))
            .attr("y", d => y(d))
            .attr("height", d => y(0) - y(d))
            .attr("fill", color).attr("fill-opacity", 0.66)
            .attr("stroke", "#222").attr("stroke-width", 1.1);
    }
    bars(uBins, uCounts, "#1f77b4");
    bars(vBins, vCounts, "#ff7f0e");

    drawFrame(g, p);
    drawAxes(g, p, x, y, xTicks, yTicks, minus, d => d);
    title(p, "U and V Wind Components");
    unitText(xLabel(p, "", 1159), "Wind speed (m s");
    yLabel(p, "Frequency", 823);

    legendBox(1442, 813.8, 118.6, 33.2);
    [["#1f77b4", "U (zonal)", 824], ["#ff7f0e", "V (meridional)", 839]].forEach(function (r) {
        display.append("rect").attr("x", 1447).attr("y", r[2] - 4).attr("width", 23).attr("height", 8)
            .attr("fill", r[0]).attr("fill-opacity", 0.66).attr("stroke", "#222").attr("stroke-width", 1);
        legendText(1477, r[2], r[1]);
    });
}

drawMap();
drawInfo();
drawWind();
drawLat();
drawAlt();
drawHist();
</script>
</body>
</html>
